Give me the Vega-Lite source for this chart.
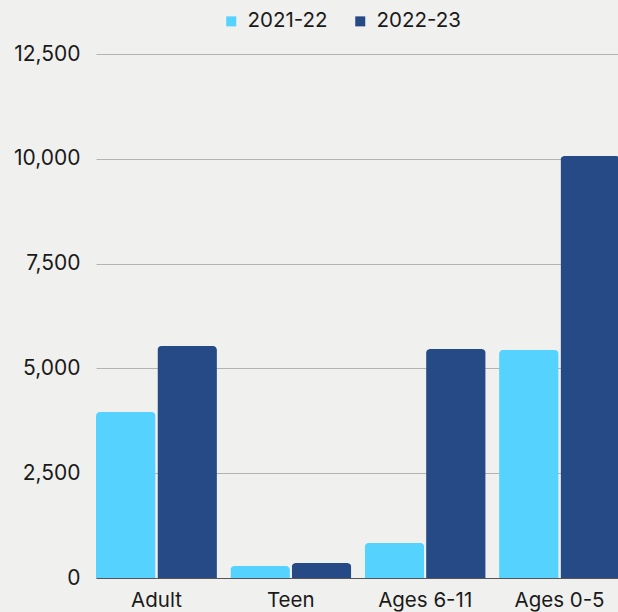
{
  "$schema": "https://vega.github.io/schema/vega-lite/v6.json",
  "width": 524,
  "height": 524,
  "autosize": {"type": "none"},
  "padding": {"left": 96, "top": 54, "right": 0, "bottom": 34},
  "background": "#f0f0ee",
  "config": {
    "view": {"stroke": null},
    "font": "Inter",
    "axis": {"labelFont": "Inter", "labelColor": "#1a1a1a"},
    "legend": {"labelFont": "Inter", "labelColor": "#1a1a1a"}
  },
  "data": {
    "values": [
      {"group": "Adult", "year": "2021-22", "value": 3960},
      {"group": "Adult", "year": "2022-23", "value": 5534},
      {"group": "Teen", "year": "2021-22", "value": 286},
      {"group": "Teen", "year": "2022-23", "value": 358},
      {"group": "Ages 6-11", "year": "2021-22", "value": 835},
      {"group": "Ages 6-11", "year": "2022-23", "value": 5463},
      {"group": "Ages 0-5", "year": "2021-22", "value": 5439},
      {"group": "Ages 0-5", "year": "2022-23", "value": 10067}
    ]
  },
  "mark": {"type": "bar", "cornerRadiusTopLeft": 4, "cornerRadiusTopRight": 4},
  "encoding": {
    "x": {
      "field": "group",
      "type": "nominal",
      "sort": ["Adult", "Teen", "Ages 6-11", "Ages 0-5"],
      "scale": {"paddingInner": 0.1, "paddingOuter": 0},
      "axis": {
        "title": null,
        "labelAngle": 0,
        "labelFontSize": 20.5,
        "labelPadding": 12,
        "ticks": false,
        "domainColor": "#555555",
        "domainWidth": 1
      }
    },
    "xOffset": {
      "field": "year",
      "type": "nominal",
      "scale": {"paddingInner": 0.03}
    },
    "y": {
      "field": "value",
      "type": "quantitative",
      "scale": {"domain": [0, 12500]},
      "axis": {
        "title": null,
        "values": [0, 2500, 5000, 7500, 10000, 12500],
        "format": ",.0f",
        "labelFontSize": 21,
        "labelPadding": 16,
        "ticks": false,
        "domain": false,
        "gridColor": "#b3b3b3",
        "gridWidth": 1
      }
    },
    "color": {
      "field": "year",
      "type": "nominal",
      "scale": {"domain": ["2021-22", "2022-23"], "range": ["#55d3fe", "#264a85"]},
      "legend": {
        "title": null,
        "orient": "none",
        "direction": "horizontal",
        "legendX": 125,
        "legendY": -43,
        "symbolType": "square",
        "symbolSize": 100,
        "labelFontSize": 20.5,
        "columnPadding": 22,
        "labelOffset": 6
      }
    }
  }
}
